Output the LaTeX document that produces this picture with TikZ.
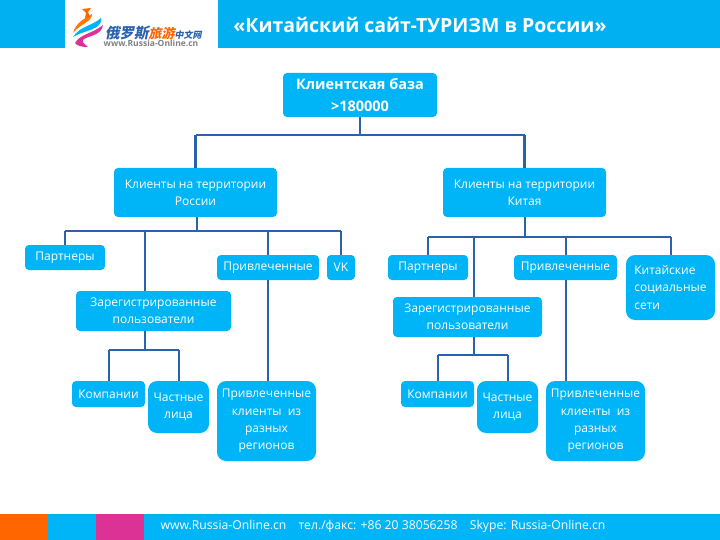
\documentclass[tikz,border=0pt]{standalone}
\usepackage{fontspec}
\setmainfont{Open Sans}
\newfontfamily\cjkfont{Noto Sans CJK SC}
\definecolor{skyfill}{HTML}{00B4F8}
\definecolor{headfill}{HTML}{00B0F0}
\definecolor{linkblue}{HTML}{2A62AE}
\definecolor{footteal}{HTML}{00B5D8}
\definecolor{footorange}{HTML}{FF6600}
\definecolor{footpink}{HTML}{DC3296}
\tikzset{
  box/.style={fill=skyfill,text=white,rounded corners=4pt,inner sep=0pt,align=center,font=\fontsize{12}{17.3}\selectfont},
  bigbox/.style={box,rounded corners=9pt},
  trunk/.style={linkblue,line width=2.8pt},
  twig/.style={linkblue,line width=2pt}
}
\begin{document}
\begin{tikzpicture}[x=1pt,y=-1pt]
\useasboundingbox (0,0) rectangle (720,540);
% header
\fill[headfill] (0,0) rectangle (65,48);
\fill[headfill] (218,0) rectangle (720,48);
\node (title) at (420,25) [text=white,font=\fontsize{19.5}{22}\selectfont\bfseries] {«Китайский сайт-ТУРИЗМ в России»};
% logo
\fill[footorange!90!yellow] (73,33) .. controls (76,22) and (86,18) .. (92,14) .. controls (92,22) and (80,24) .. (73,33);
\fill[skyfill] (73,37) .. controls (80,26) and (92,26) .. (101,18) .. controls (103,30) and (84,30) .. (73,37);
\fill[footpink] (75,43) .. controls (80,34) and (92,34) .. (103,25) .. controls (102,36) and (86,36) .. (83,40) .. controls (82,43) and (86,45) .. (88,47) .. controls (82,47) and (77,46) .. (75,43);
\fill[footorange] (82,9) -- (91,8) -- (88,12) -- (90,17) -- (85,18) -- (86,13) -- cycle;
\node (logoname) at (154.5,33) [transform shape,xslant=0.2,inner sep=0pt,text=linkblue,font=\cjkfont\bfseries\fontsize{14.5}{15}\selectfont] {俄罗斯\textcolor{footorange}{{\fontsize{13}{15}\selectfont 旅游}}{\fontsize{9}{10}\selectfont 中文网}};
\node (logourl) at (151,43.5) [text=gray,font=\fontsize{8.5}{9}\selectfont\bfseries] {www.Russia-Online.cn};
% footer
\fill[footorange] (0,514) rectangle (48,540);
\fill[footteal] (48,514) rectangle (96,540);
\fill[skyfill] (48,516) rectangle (96,540);
\fill[footpink] (96,514) rectangle (144,540);
\fill[footteal] (144,514) rectangle (720,540);
\fill[skyfill] (144,516) rectangle (720,540);
\node (footer) at (383,526.5) [text=white,font=\fontsize{12.2}{14}\selectfont] {www.Russia-Online.cn\quad тел./факс: +86 20 38056258\quad Skype: Russia-Online.cn};
% boxes
\node (base) at (360,95) [box,minimum width=154pt,minimum height=44pt,font=\fontsize{14.5}{22}\selectfont\bfseries] {Клиентская база\\>180000};
\node (ru) at (195.5,192.5) [box,minimum width=163pt,minimum height=49pt] {Клиенты на территории\\России};
\node (cn) at (524.5,192.5) [box,minimum width=163pt,minimum height=49pt] {Клиенты на территории\\Китая};
\node (partRu) at (65,257.5) [box,minimum width=80pt,minimum height=25pt] {Партнеры};
\node (attrRu) at (268,267.5) [box,minimum width=102pt,minimum height=25pt] {Привлеченные};
\node (vk) at (341,267.5) [box,minimum width=28pt,minimum height=25pt] {VK};
\node (regRu) at (153.5,311) [box,minimum width=155pt,minimum height=40pt] {Зарегистрированные\\пользователи};
\node (compRu) at (108.5,394) [box,minimum width=73pt,minimum height=26pt] {Компании};
\node (privRu) at (178.5,407) [bigbox,minimum width=61pt,minimum height=52pt] {Частные\\лица};
\node (clRu) at (266.5,421) [bigbox,minimum width=99pt,minimum height=80pt] {Привлеченные\\клиенты~~из\\разных\\регионов};
\node (partCn) at (428,267.5) [box,minimum width=80pt,minimum height=25pt] {Партнеры};
\node (attrCn) at (565.5,267.5) [box,minimum width=103pt,minimum height=25pt] {Привлеченные};
\node (soc) at (670.5,287.5) [bigbox,minimum width=89pt,minimum height=65pt,align=left] {Китайские\\социальные\\сети};
\node (regCn) at (467.5,317) [box,minimum width=149pt,minimum height=40pt] {Зарегистрированные\\пользователи};
\node (compCn) at (437.5,394) [box,minimum width=73pt,minimum height=26pt] {Компании};
\node (privCn) at (507.5,407) [bigbox,minimum width=61pt,minimum height=52pt] {Частные\\лица};
\node (clCn) at (595.5,421) [bigbox,minimum width=99pt,minimum height=80pt] {Привлеченные\\клиенты~~из\\разных\\регионов};
% bus points
\coordinate (busTop) at (360,135);
\coordinate (busRu) at (197,231);
\coordinate (busCn) at (525,237);
\coordinate (stemRu) at (145,231);
\coordinate (stemCn) at (473.5,237);
\coordinate (busRegRu) at (145,350);
\coordinate (busRegCn) at (473.5,355);
% connectors
\draw[trunk] (busTop |- base.south) -- (busTop);
\draw[trunk] (busTop -| ru.north) -- (ru.north);
\draw[trunk] (busTop -| cn.north) -- (cn.north);
\draw[trunk] (busTop -| ru.north) -- (busTop -| cn.north);
\draw[twig] (busRu |- ru.south) -- (busRu);
\draw[twig] (busRu -| partRu.north) -- (partRu.north);
\draw[twig] (busRu -| vk.north) -- (vk.north);
\draw[twig] (busRu -| partRu.north) -- (busRu -| vk.north);
\draw[twig] (busRu -| attrRu.north) -- (attrRu.north);
\draw[trunk] (stemRu) -- (stemRu |- regRu.north);
\draw[twig] (attrRu.south) -- (attrRu.south |- clRu.north);
\draw[twig] (busCn |- cn.south) -- (busCn);
\draw[twig] (busCn -| partCn.north) -- (partCn.north);
\draw[twig] (busCn -| attrCn.north) -- (attrCn.north);
\draw[twig] (busCn -| soc.north) -- (soc.north);
\draw[twig] (busCn -| partCn.north) -- (busCn -| soc.north);
\draw[twig] (stemCn) -- (stemCn |- regCn.north);
\draw[twig] (attrCn.south) -- (attrCn.south |- clCn.north);
\draw[twig] (busRegRu |- regRu.south) -- (busRegRu);
\draw[twig] (busRegRu -| compRu.north) -- (compRu.north);
\draw[twig] (busRegRu -| privRu.north) -- (privRu.north);
\draw[twig] (busRegRu -| compRu.north) -- (busRegRu -| privRu.north);
\draw[twig] (busRegCn |- regCn.south) -- (busRegCn);
\draw[twig] (busRegCn -| compCn.north) -- (compCn.north);
\draw[twig] (busRegCn -| privCn.north) -- (privCn.north);
\draw[twig] (busRegCn -| compCn.north) -- (busRegCn -| privCn.north);
\end{tikzpicture}
\end{document}
